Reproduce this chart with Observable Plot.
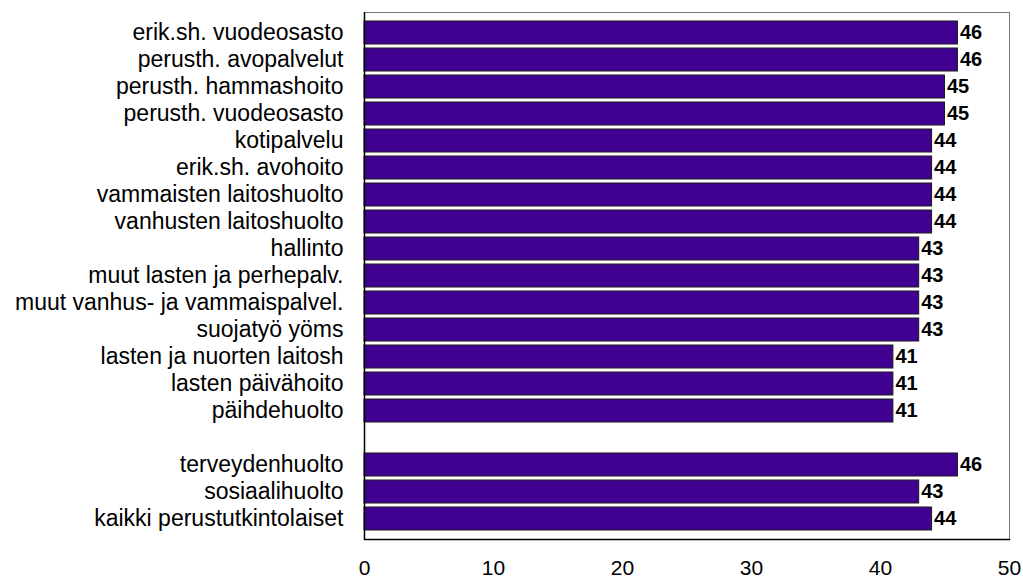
<!DOCTYPE html>
<html>
<head>
<meta charset="utf-8">
<script src="https://cdn.jsdelivr.net/npm/d3@7"></script>
<script src="https://cdn.jsdelivr.net/npm/@observablehq/plot@0.6"></script>
<style>
  html, body { margin: 0; padding: 0; background: #fff; }
  #chart svg { display: block; }
</style>
</head>
<body>
<div id="chart"></div>
<script>
const categories = [
  "erik.sh. vuodeosasto",
  "perusth. avopalvelut",
  "perusth. hammashoito",
  "perusth. vuodeosasto",
  "kotipalvelu",
  "erik.sh. avohoito",
  "vammaisten laitoshuolto",
  "vanhusten laitoshuolto",
  "hallinto",
  "muut lasten ja perhepalv.",
  "muut vanhus- ja vammaispalvel.",
  "suojatyö yöms",
  "lasten ja nuorten laitosh",
  "lasten päivähoito",
  "päihdehuolto",
  "terveydenhuolto",
  "sosiaalihuolto",
  "kaikki perustutkintolaiset"
];
const values = [46, 46, 45, 45, 44, 44, 44, 44, 43, 43, 43, 43, 41, 41, 41, 46, 43, 44];
const xTicks = [0, 10, 20, 30, 40, 50];
const gapLabel = "";

const data = categories.map((c, i) => ({category: c, value: values[i]}));
const yDomain = [...categories.slice(0, 15), gapLabel, ...categories.slice(15)];

const chart = Plot.plot({
  width: 1023,
  height: 580,
  marginLeft: 364,
  marginRight: 14,
  marginTop: 12,
  marginBottom: 41,
  style: {fontFamily: "'Liberation Sans', Arial, sans-serif", background: "#fff", color: "#000"},
  x: {domain: [0, 50], axis: null},
  y: {domain: yDomain, paddingInner: 0.14, paddingOuter: 0.06, axis: null},
  marks: [
    Plot.frame({stroke: "#777", strokeWidth: 1}),
    Plot.barX(data, {x: "value", y: "category", fill: "#400090", stroke: "#1a1a1a", strokeWidth: 1}),
    Plot.text(data, {x: "value", y: "category", text: d => String(d.value), textAnchor: "start", dx: 2, fontSize: 20, fontWeight: "bold", fill: "#000"}),
    Plot.axisY({tickSize: 0, tickPadding: 21, fontSize: 23, tickFormat: d => d, fill: "#000", label: null}),
    Plot.axisX({ticks: xTicks, tickSize: 0, tickPadding: 21, fontSize: 21, fill: "#000", label: null}),
    Plot.ruleX([0], {stroke: "#000", strokeWidth: 1.5}),
    Plot.frame({anchor: "bottom", stroke: "#000", strokeWidth: 1.5})
  ]
});
document.getElementById("chart").appendChild(chart);
</script>
</body>
</html>
